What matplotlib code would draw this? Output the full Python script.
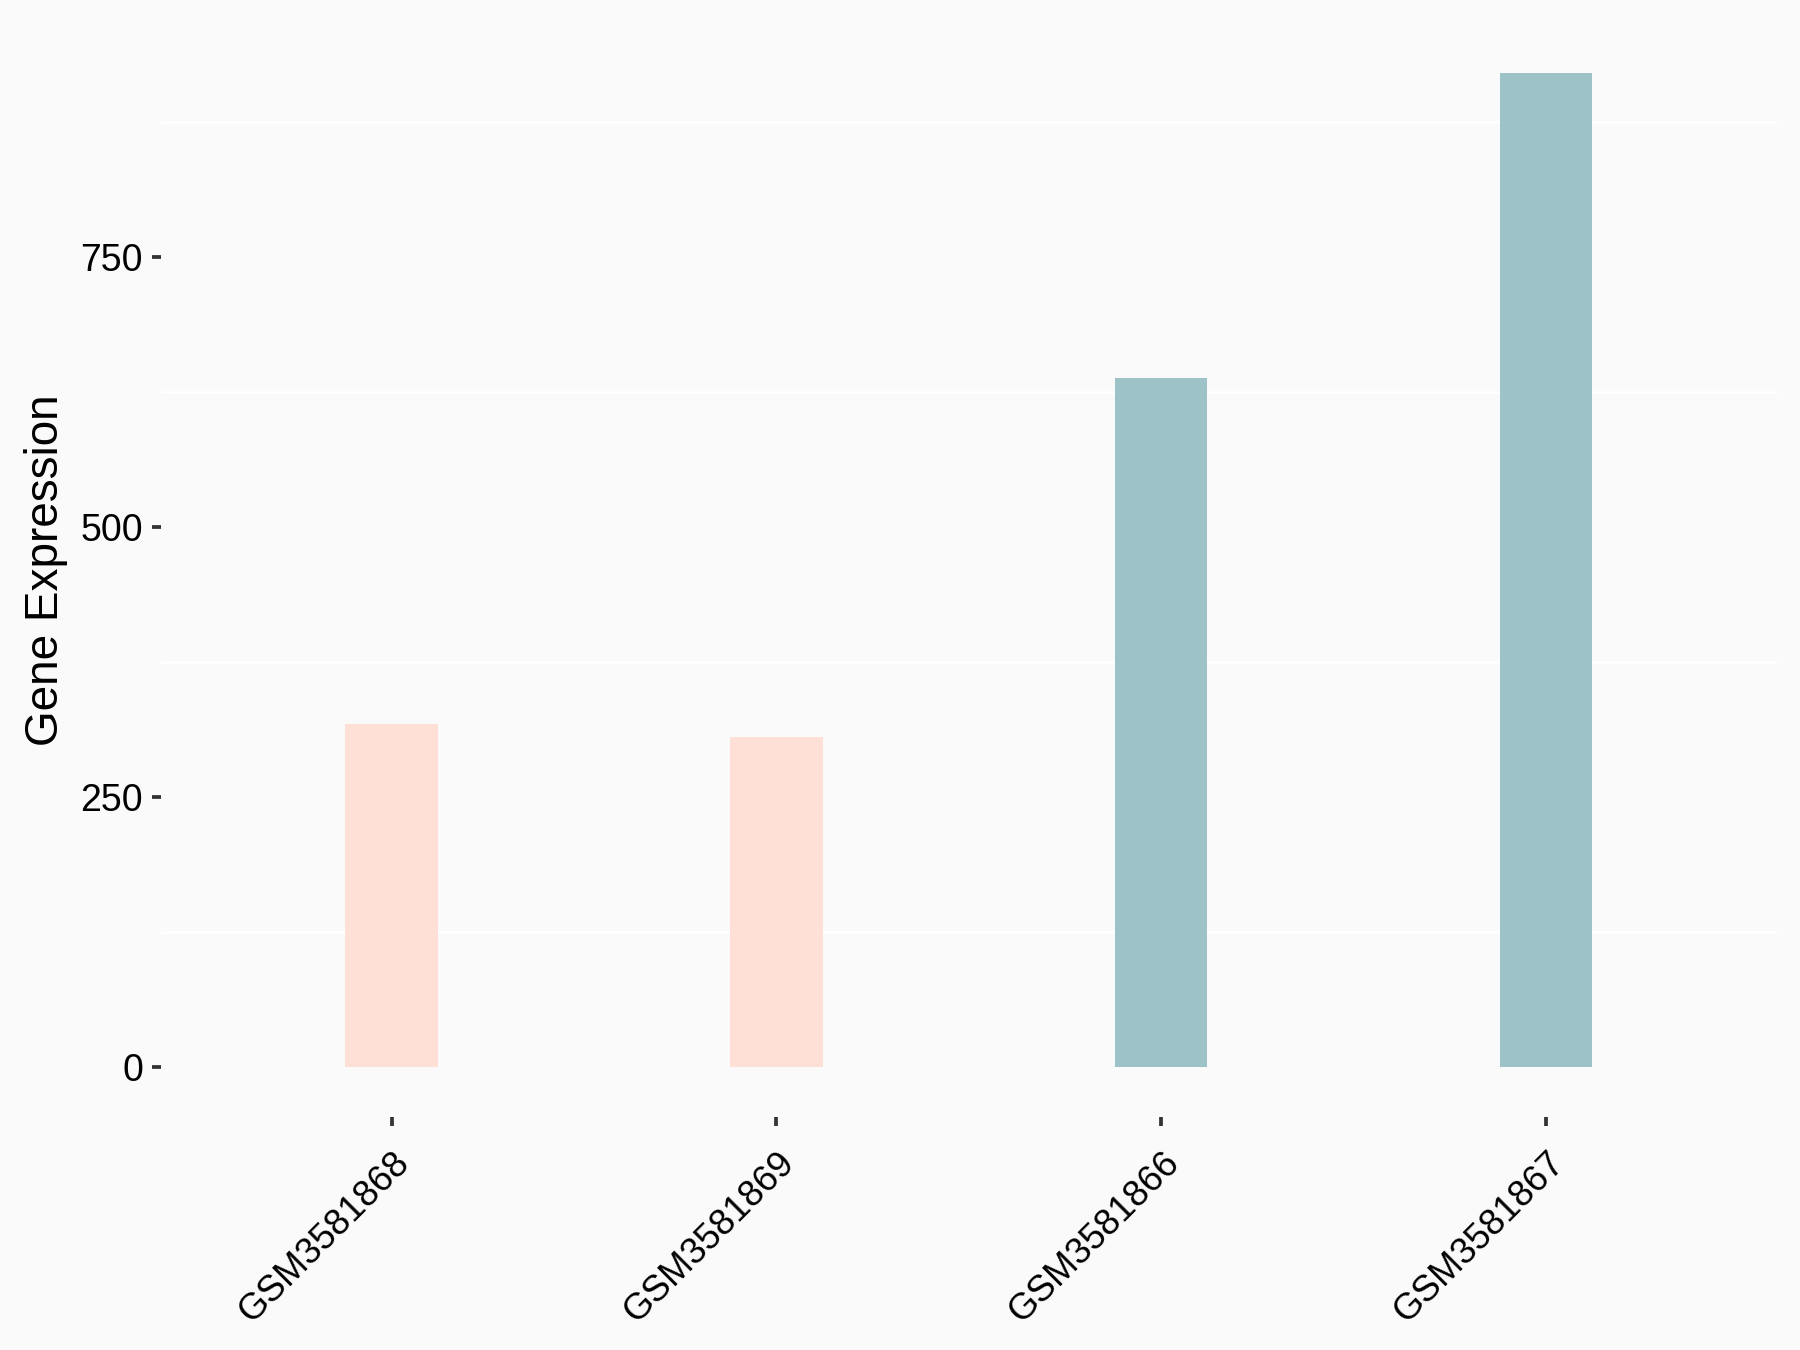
import numpy as np
import matplotlib
matplotlib.use('Agg')
import matplotlib.pyplot as plt
plt.rcParams['font.family'] = ['Liberation Sans', 'DejaVu Sans']

samples = ['GSM3581868', 'GSM3581869', 'GSM3581866', 'GSM3581867']
expression = [318, 306, 638, 921]
groups = ['a', 'a', 'b', 'b']
group_colors = {'a': '#FFE0D6', 'b': '#9DC3C8'}
yticks = [0, 250, 500, 750]
minor_grid = [125, 375, 625, 875]

bg = '#FAFAFA'
fig = plt.figure(figsize=(12, 9), dpi=150, facecolor=bg)
ax = fig.add_axes([160.7/1800, 1-1117/1350, (1777-160.7)/1800, (1117-23)/1350])
ax.set_facecolor(bg)

x = np.arange(len(samples))
for yv in minor_grid:
    ax.axhline(yv, color='white', lw=1.2, zorder=0)
ax.bar(x, expression, width=0.24, color=[group_colors[g] for g in groups], zorder=2)

ax.set_xlim(-0.6, len(samples) - 0.4)
top = max(expression)
ax.set_ylim(-0.05*top, top*1.05)
ax.set_yticks(yticks)
ax.set_xticks(x)
ax.set_xticklabels(samples, rotation=45, ha='right', va='top', rotation_mode='anchor')
ax.tick_params(axis='both', labelsize=18, color='#333333', length=4.5, width=1.8, pad=4)
ax.tick_params(axis='x', labelsize=17.5, pad=9)
for s in ax.spines.values():
    s.set_visible(False)
ax.set_ylabel('Gene Expression', fontsize=22, labelpad=6)

fig.savefig('out.png', dpi=150, facecolor=bg)
